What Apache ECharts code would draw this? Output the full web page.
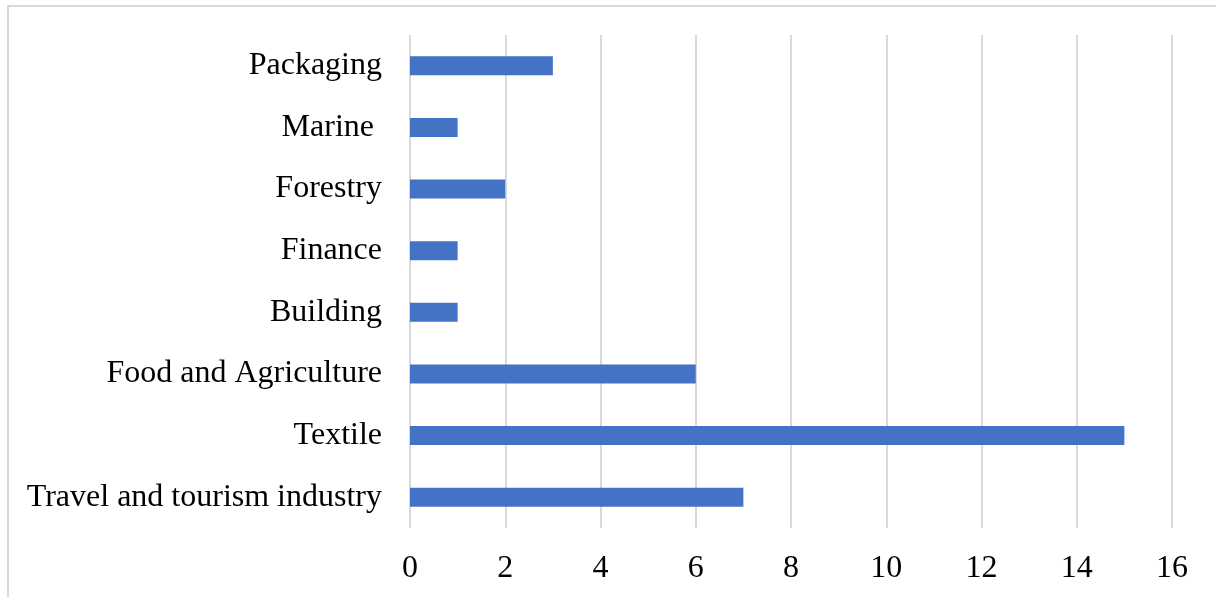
<!DOCTYPE html>
<html>
<head>
<meta charset="utf-8">
<script src="https://cdn.jsdelivr.net/npm/echarts@6/dist/echarts.min.js"></script>
<style>
html,body{margin:0;padding:0;background:#fff;}
#chart{width:1216px;height:597px;}
</style>
</head>
<body>
<div id="chart"></div>
<script>
const categories = ["Travel and tourism industry", "Textile", "Food and Agriculture", "Building", "Finance", "Forestry", "Marine ", "Packaging"];
const values = [7, 15, 6, 1, 1, 2, 1, 3];
const xTicks = { min: 0, max: 16, interval: 2 };

const chart = echarts.init(document.getElementById('chart'));
chart.setOption({
  animation: false,
  backgroundColor: '#ffffff',
  graphic: [{
    type: 'rect',
    shape: { x: 8, y: 6, width: 1400, height: 800 },
    style: { fill: 'none', stroke: '#d9d9d9', lineWidth: 2 },
    silent: true
  }],
  grid: { left: 410, right: 44, top: 35, bottom: 69, containLabel: false },
  xAxis: {
    type: 'value',
    min: xTicks.min, max: xTicks.max, interval: xTicks.interval,
    axisLine: { show: false },
    axisTick: { show: false },
    splitLine: { show: true, lineStyle: { color: '#d9d9d9', width: 2 } },
    axisLabel: { color: '#000', fontFamily: 'Liberation Serif', fontSize: 32, margin: 25 }
  },
  yAxis: {
    type: 'category',
    data: categories,
    axisLine: { show: false },
    axisTick: { show: false },
    axisLabel: { color: '#000', fontFamily: 'Liberation Serif', fontSize: 32, margin: 28, padding: [4, 0, 0, 0] }
  },
  series: [{
    type: 'bar',
    data: values,
    barWidth: 19,
    itemStyle: { color: '#4472C4' }
  }]
});
</script>
</body>
</html>
